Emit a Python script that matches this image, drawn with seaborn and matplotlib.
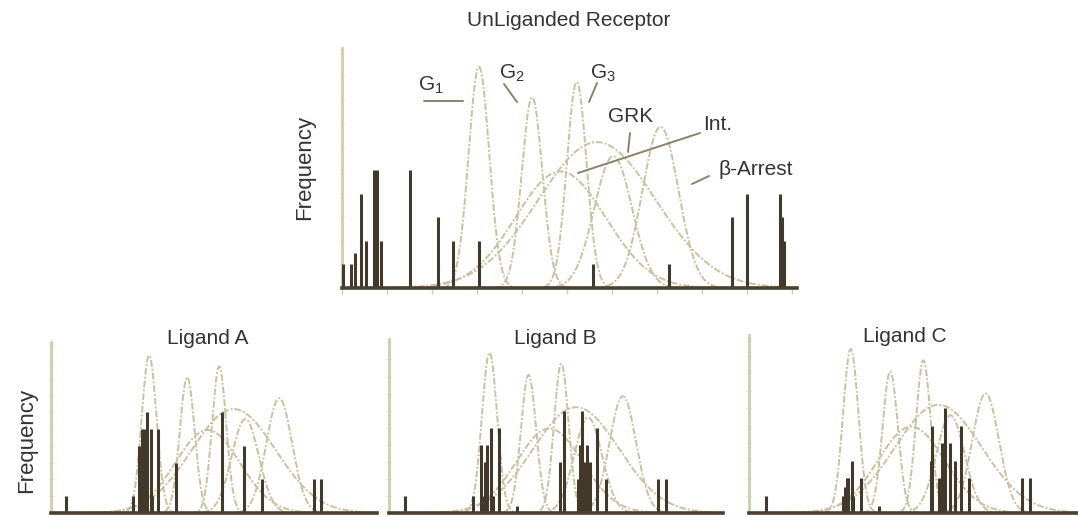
import numpy as np
import pandas as pd
import matplotlib
matplotlib.use("Agg")
import matplotlib.pyplot as plt
import seaborn as sns

sns.set_theme(style="white")
plt.rcParams["font.family"] = ["Liberation Sans", "DejaVu Sans"]
plt.rcParams["mathtext.fontset"] = "custom"
plt.rcParams["mathtext.rm"] = "Liberation Sans"
plt.rcParams["mathtext.it"] = "Liberation Sans"

# Effector coupling profiles (peak position, peak height, spread)
curve_names = ["G1", "G2", "G3", "GRK", "beta-Arrest", "Int.", "Broad"]
curve_centers = [3.04, 4.22, 5.21, 6.02, 7.07, 4.85, 5.66]
curve_heights = [9.4, 8.1, 8.75, 5.6, 6.85, 4.95, 6.2]
curve_widths = [0.23, 0.23, 0.22, 0.42, 0.40, 1.0, 1.3]

# Receptor conformation frequencies
unliganded_x = [0.02, 0.21, 0.29, 0.42, 0.53, 0.70, 0.77, 0.87, 1.50, 2.12,
                2.47, 3.04, 5.58, 7.25, 8.66, 8.98, 9.73, 9.77, 9.81]
unliganded_h = [1, 1, 1.5, 4, 2, 5, 5, 2, 5, 3,
                2, 2, 1, 1, 3, 4, 4, 3, 2]

ligand_a_x = [0.45, 2.53, 2.74, 2.82, 2.88, 2.96, 3.09, 3.14, 3.32, 3.87,
              5.30, 5.98, 6.55, 8.14, 8.38]
ligand_a_h = [1, 1, 4, 5, 5, 6, 5, 1, 5, 3,
              6, 4, 2, 2, 2]

ligand_b_x = [0.48, 2.53, 2.78, 2.83, 2.90, 2.97, 3.08, 3.15, 3.33, 3.88,
              5.17, 5.30, 5.72, 5.77, 5.84, 5.90, 5.99, 6.07, 6.29, 6.56,
              8.14, 8.37]
ligand_b_h = [1, 1, 4, 1, 3, 4, 5, 1, 5, 0.4,
              3, 6, 2, 4, 6, 3, 4, 3, 5, 2,
              2, 2]

ligand_c_x = [0.50, 2.82, 2.87, 2.92, 2.97, 3.07, 3.11, 3.34, 3.89,
              5.43, 5.46, 5.68, 5.78, 5.86, 6.00, 6.16, 6.32, 6.57,
              8.17, 8.39]
ligand_c_h = [1, 1, 1.5, 2, 2, 3, 1, 2, 0.4,
              3, 5, 2, 4, 6, 4, 3, 5, 2,
              2, 2]

CURVE_COLOR = "#c9c1a1"
BAR_COLOR = "#43392a"
AXIS_DARK = "#4b4030"
AXIS_LIGHT = "#d4cbad"
TEXT_COLOR = "#333333"
POINTER = "#8c826a"

W, H = 1078, 517
fig = plt.figure(figsize=(W / 100, H / 100), dpi=100)


def px_axes(left, top, right, bottom):
    return fig.add_axes([left / W, 1 - bottom / H, (right - left) / W, (bottom - top) / H])


xgrid = np.linspace(0, 10.4, 600)
frames = []
for name, c, h, s in zip(curve_names, curve_centers, curve_heights, curve_widths):
    frames.append(pd.DataFrame({"x": xgrid, "y": h * np.exp(-0.5 * ((xgrid - c) / s) ** 2),
                                "curve": name}))
curves = pd.concat(frames, ignore_index=True)


def draw_panel(ax, xs, hs, xmax, show_xticks):
    sns.lineplot(data=curves, x="x", y="y", units="curve", estimator=None, ax=ax,
                 color=CURVE_COLOR, lw=1.4, linestyle=(0, (3.5, 1, 1, 1)),
                 legend=False, zorder=2)
    ax.vlines(xs, 0, hs, color=BAR_COLOR, lw=2.2, zorder=3)
    ax.set_xlim(0, xmax)
    ax.set_ylim(0, 10.2)
    ax.set_xlabel("")
    ax.set_ylabel("")
    for side in ("top", "right"):
        ax.spines[side].set_visible(False)
    ax.spines["left"].set_color(AXIS_LIGHT)
    ax.spines["left"].set_linewidth(2.0)
    ax.spines["bottom"].set_color(AXIS_DARK)
    ax.spines["bottom"].set_linewidth(2.6)
    ax.spines["bottom"].set_zorder(4)
    ax.set_yticks(np.arange(1, 10.2, 1))
    ax.tick_params(axis="y", direction="inout", length=3, width=0.8, color=AXIS_LIGHT,
                   left=True, labelleft=False)
    if show_xticks:
        ax.set_xticks(np.arange(0, 11, 1))
        ax.tick_params(axis="x", direction="out", length=4, width=1.0, color=AXIS_LIGHT,
                       bottom=True, labelbottom=False)
    else:
        ax.set_xticks([])
    ax.patch.set_alpha(0)


ax_top = px_axes(342, 48, 797, 288)
draw_panel(ax_top, unliganded_x, unliganded_h, 10.1, True)

ax_a = px_axes(51, 342, 377, 513)
draw_panel(ax_a, ligand_a_x, ligand_a_h, 10.1, False)

ax_b = px_axes(389, 339, 723, 513)
draw_panel(ax_b, ligand_b_x, ligand_b_h, 10.1, False)

ax_c = px_axes(749, 335, 1087, 513)
draw_panel(ax_c, ligand_c_x, ligand_c_h, 10.1, False)


def ftext(x, y, s, size=15, **kw):
    fig.text(x / W, 1 - y / H, s, fontsize=size, color=TEXT_COLOR,
             ha=kw.pop("ha", "center"), va=kw.pop("va", "center"), **kw)


def pointer(x0, y0, x1, y1):
    fig.add_artist(plt.Line2D([x0 / W, x1 / W], [1 - y0 / H, 1 - y1 / H],
                              color=POINTER, lw=1.4, transform=fig.transFigure))


ftext(569, 20, "UnLiganded Receptor")
ftext(305, 167, "Frequency", size=16, rotation=90)
ftext(27, 440, "Frequency", size=16, rotation=90)
ftext(208, 338, "Ligand A")
ftext(555, 338, "Ligand B")
ftext(905, 336, "Ligand C")

ftext(431, 85, "G$_1$")
pointer(424, 101, 463, 101)
ftext(512, 73, "G$_2$")
pointer(504, 84, 517, 102)
ftext(603, 73, "G$_3$")
pointer(597, 83, 589, 102)
ftext(631, 117, "GRK")
pointer(630, 133, 628, 152)
ftext(718, 125, "Int.")
pointer(700, 133, 578, 173)
ftext(756, 169, "β-Arrest")
pointer(709, 176, 692, 184)

fig.savefig("out.png", dpi=100, facecolor="white")
